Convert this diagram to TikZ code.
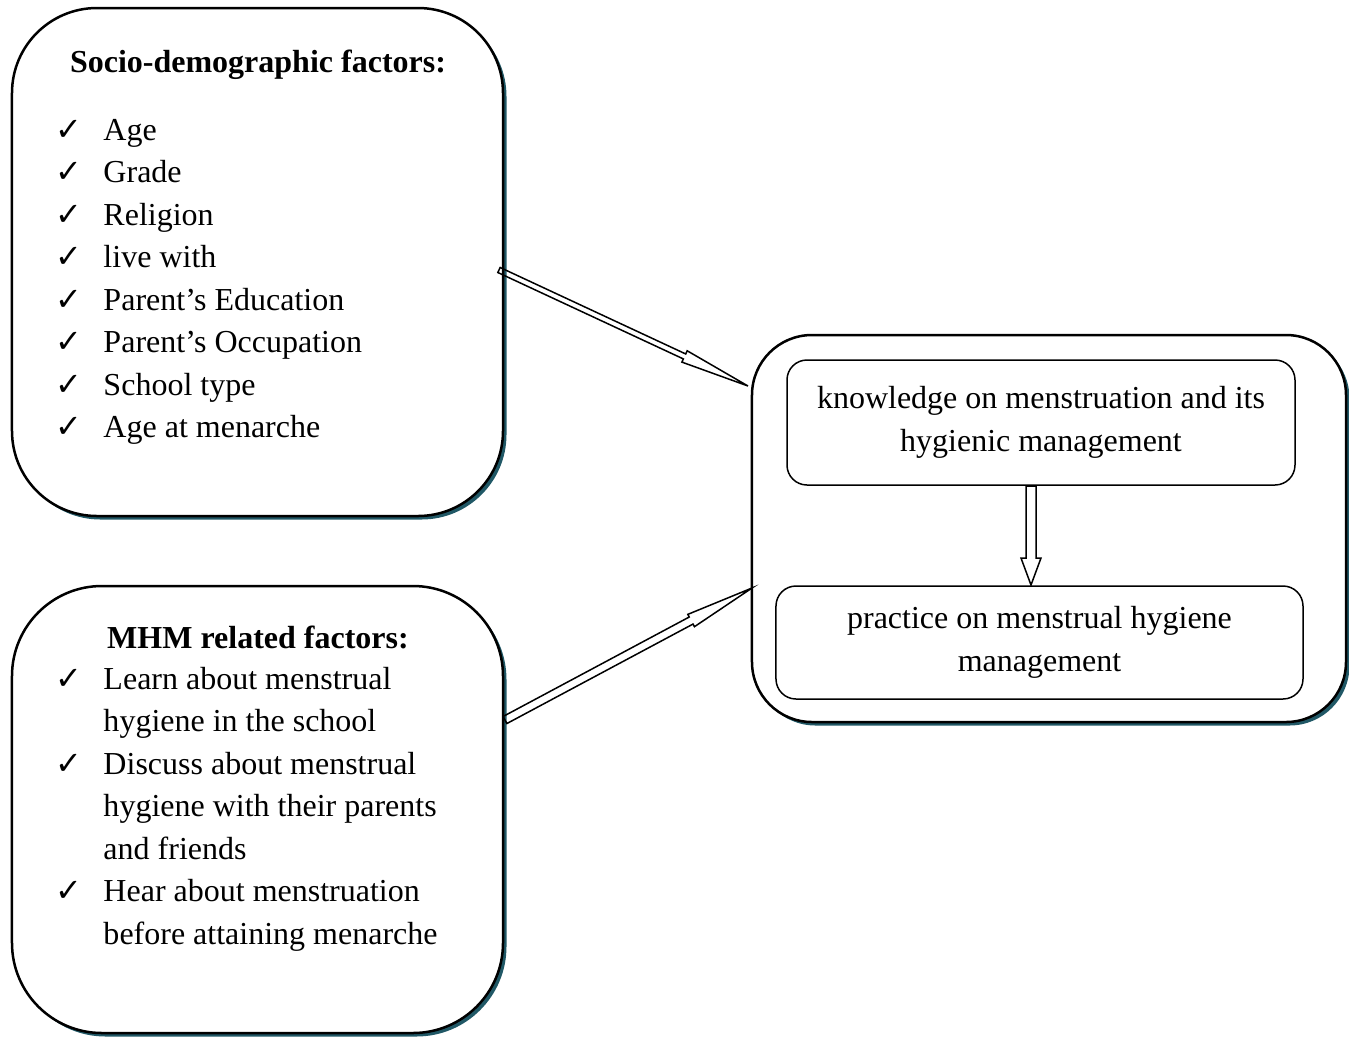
\documentclass[tikz,border=0pt]{standalone}
\usepackage{fontspec}
\setmainfont{Liberation Serif}
\newfontfamily\ckfont{DejaVu Sans}
\usepackage{tikz}
\usetikzlibrary{calc}
\usetikzlibrary{shadows}
\definecolor{shadowteal}{RGB}{32,88,102}
\newcommand{\ck}{{\ckfont\bfseries\char"2713}}

\begin{document}
\begin{tikzpicture}[x=0.4pt,y=-0.4pt,
every node/.style={font=\fontsize{12.8}{17}\selectfont},
bigbox/.style={draw,line width=1pt,fill=white,
drop shadow={shadow xshift=1.4pt,shadow yshift=-1.4pt,
fill=shadowteal,opacity=1}},
smallbox/.style={draw,line width=0.6pt,rounded corners=8pt,
align=center,inner sep=0pt},
title/.style={anchor=base,font=\fontsize{12.8}{17}\selectfont\bfseries},
itemlist/.style={anchor=north west,inner sep=0pt},
hollow/.style n args={3}{line width=0.6pt,line join=miter,to path={
($(\tikztostart)!#1!90:(\tikztotarget)$)
-- ($(\tikztotarget)!#3!(\tikztostart)!#1!90:(\tikztotarget)$)
-- ($(\tikztotarget)!#3!(\tikztostart)!#2!90:(\tikztotarget)$)
-- (\tikztotarget)
-- ($(\tikztotarget)!#3!(\tikztostart)!#2!-90:(\tikztotarget)$)
-- ($(\tikztotarget)!#3!(\tikztostart)!#1!-90:(\tikztotarget)$)
-- ($(\tikztostart)!#1!-90:(\tikztotarget)$) -- cycle}}]
\useasboundingbox (0,0) rectangle (1349,1036);
% the three big boxes
\node[bigbox,rounded corners=34pt,minimum width=196.4pt,
minimum height=203.2pt] (socio) at (257.5,262) {};
\node[bigbox,rounded corners=36pt,minimum width=196.4pt,
minimum height=178.8pt] (mhm) at (257.5,809.5) {};
\node[bigbox,rounded corners=24pt,minimum width=237.6pt,
minimum height=154.8pt] (outcome) at (1049,528.5) {};
% outcome boxes
\node[smallbox,minimum width=203.2pt,minimum height=50pt] (know)
at (1041,422.5) {knowledge on menstruation and its\\ hygienic management};
\node[smallbox,minimum width=210.8pt,minimum height=45.2pt] (practice)
at (1039.5,642.5) {practice on menstrual hygiene\\ management};
% factor lists
\node[title] (sociotitle) at (258,72) {Socio-demographic factors:};
\node[itemlist] (sociolist) at (55,110) {%
\begin{tabular}{@{}p{19.2pt}@{}l@{}}
\ck & Age\\
\ck & Grade\\
\ck & Religion\\
\ck & live with\\
\ck & Parent’s Education\\
\ck & Parent’s Occupation\\
\ck & School type\\
\ck & Age at menarche
\end{tabular}};
\node[title] (mhmtitle) at (258,648) {MHM related factors:};
\node[itemlist] (mhmlist) at (55,659) {%
\begin{tabular}{@{}p{19.2pt}@{}l@{}}
\ck & Learn about menstrual\\
    & hygiene in the school\\
\ck & Discuss about menstrual\\
    & hygiene with their parents\\
    & and friends\\
\ck & Hear about menstruation\\
    & before attaining menarche
\end{tabular}};
% arrows
\coordinate (a1s) at (499,270);
\coordinate (a1e) at (748,386);
\coordinate (a2s) at (505,720);
\coordinate (a2e) at (752,588);
\coordinate (a3s) at (1031,486);
\coordinate (a3e) at (1031,585);
\draw[hollow={1.1pt}{2.5pt}{28pt}] (a1s) to (a1e);
\draw[hollow={1.6pt}{2.8pt}{27.6pt}] (a2s) to (a2e);
\draw[hollow={2pt}{4pt}{10.8pt}] (a3s) to (a3e);
\end{tikzpicture}
\end{document}
